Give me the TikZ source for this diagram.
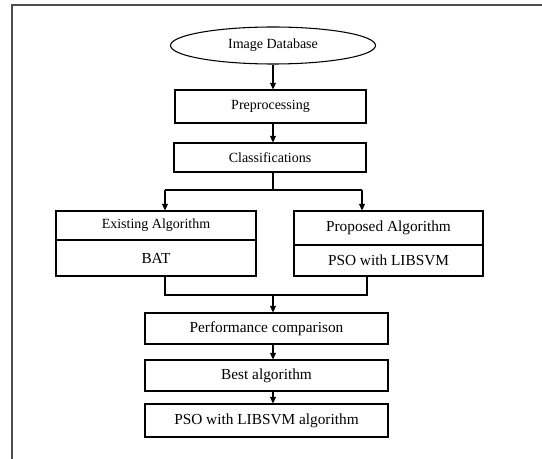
\documentclass[tikz,border=0pt]{standalone}
\usepackage{fontspec}
\setmainfont{Liberation Serif}
\usetikzlibrary{shapes.geometric,arrows.meta}

\begin{document}
\begin{tikzpicture}[x=0.75pt,y=-0.75pt,
        box/.style={draw, line width=0.8pt, inner sep=0pt, font=\fontsize{10.5}{12}\selectfont},
        bigtext/.style={font=\fontsize{11.5}{13}\selectfont},
        arr/.style={-{Triangle[length=5pt,width=4.5pt]}, line width=0.8pt},
        link/.style={line width=0.8pt},
        frame/.style={line width=1.3pt, draw=black!70}]
                \useasboundingbox (0,0) rectangle (542,459);
                \draw[frame] (12,459) -- (12,5) -- (542,5);

                \node[box, ellipse, minimum width=153.75pt, minimum height=27.75pt] (db) at (273,45.5) {Image Database};
                \node[box, minimum width=143.25pt, minimum height=24.75pt] (pre) at (270.5,106.5) {Preprocessing};
                \node[box, minimum width=144pt, minimum height=21.75pt] (cls) at (270,157.5) {Classifications};

                \node[box, minimum width=150pt, minimum height=21.75pt] (existhead) at (156,225.5) {Existing Algorithm};
                \node[box, bigtext, minimum width=150pt, minimum height=27pt] (existbody) at (156,258) {BAT};
                \node[box, bigtext, minimum width=141.75pt, minimum height=25.5pt] (prophead) at (388.5,228) {Proposed Algorithm};
                \node[box, bigtext, minimum width=141.75pt, minimum height=23.25pt] (propbody) at (388.5,260.5) {PSO with LIBSVM};

                \node[box, bigtext, minimum width=182.25pt, minimum height=23.25pt] (perf) at (266.5,328.5) {Performance comparison};
                \node[box, bigtext, minimum width=182.25pt, minimum height=23.25pt] (best) at (266.5,375.5) {Best algorithm};
                \node[box, bigtext, minimum width=182.25pt, minimum height=24.75pt] (final) at (266.5,420.5) {PSO with LIBSVM algorithm};

                \coordinate (fork) at (273,190);
                \coordinate (forkl) at (165,190);
                \coordinate (forkr) at (362,190);
                \coordinate (join) at (273,295);
                \coordinate (joinl) at (165,295);
                \coordinate (joinr) at (367,295);

                \draw[arr] (db.south) -- (db.south |- pre.north);
                \draw[arr] (pre.south -| db) -- (cls.north -| db);
                \draw[link] (cls.south -| fork) -- (fork);
                \draw[link] (forkl) -- (forkr);
                \draw[arr] (forkl) -- (forkl |- existhead.north);
                \draw[arr] (forkr) -- (forkr |- prophead.north);
                \draw[link] (joinl |- existbody.south) -- (joinl) -- (joinr) -- (joinr |- propbody.south);
                \draw[arr] (join) -- (join |- perf.north);
                \draw[arr] (perf.south -| join) -- (best.north -| join);
                \draw[arr] (best.south -| join) -- (final.north -| join);
            \end{tikzpicture}
\end{document}
